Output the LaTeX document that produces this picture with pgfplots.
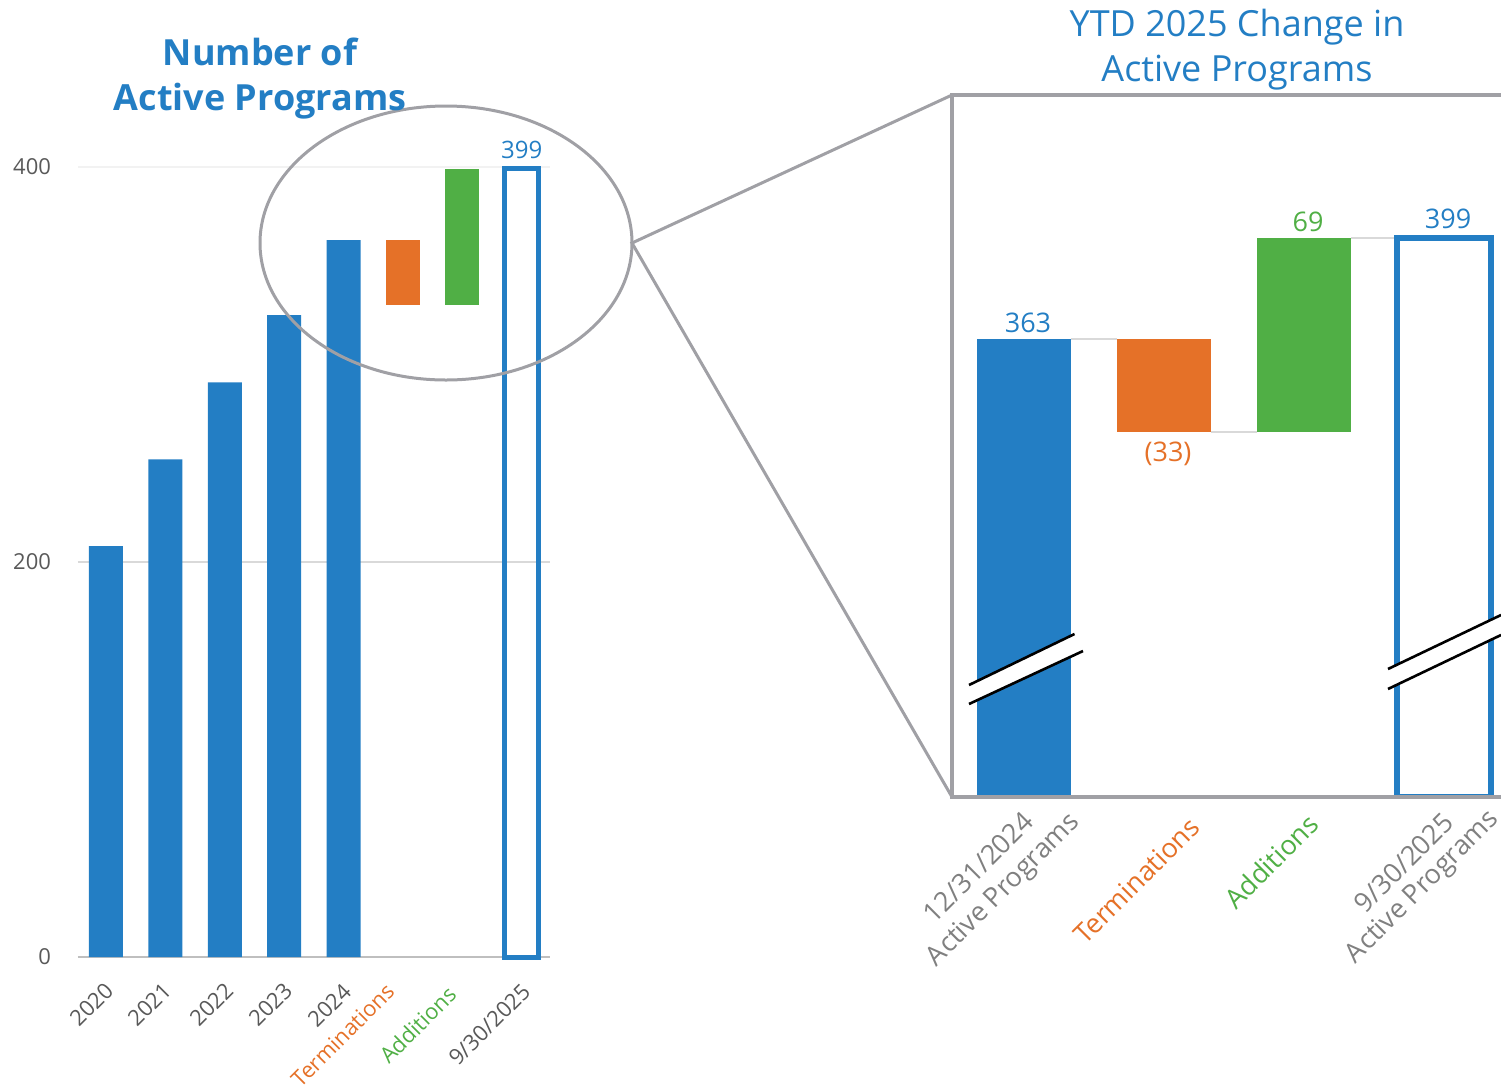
\documentclass[border=0pt]{standalone}
\usepackage{fontspec}
\setmainfont{Open Sans}
\usepackage{pgfplots}
\pgfplotsset{compat=1.18}
\definecolor{cblue}{HTML}{237EC4}
\definecolor{corange}{HTML}{E57128}
\definecolor{cgreen}{HTML}{50AF45}
\definecolor{cdark}{HTML}{595959}
\definecolor{clab}{HTML}{808080}
\definecolor{cframe}{HTML}{A0A0A5}
\definecolor{cgrid}{HTML}{D9D9D9}
\definecolor{cxaxis}{HTML}{BFBFBF}
\begin{document}
\begin{tikzpicture}
\useasboundingbox (0,0) rectangle (750.5pt,-544.5pt);

% ---------- left chart ----------
\begin{axis}[
  at={(39pt,-478.5pt)}, anchor=south west, scale only axis,
  width=236pt, height=395pt,
  xmin=-0.471, xmax=7.475, ymin=0, ymax=400, clip=false,
  axis x line*=bottom, axis y line*=left,
  x axis line style={color=cxaxis, line width=1pt, -},
  y axis line style={draw=none},
  major tick length=0pt,
  ytick={0,200}, extra y ticks={400},
  ymajorgrids, grid style={color=cgrid, line width=0.8pt},
  extra y tick style={grid style={color=cgrid!35, line width=0.8pt}},
  /pgf/number format/assume math mode=true,
  yticklabel style={font=\fontsize{11}{13}\selectfont, text=cdark, xshift=-10pt},
  xtick=\empty,
]
\addplot[ybar, bar width=17pt, bar shift=0pt, fill=cblue, draw=none]
  coordinates {(0,208) (1,252) (2,291) (3,325) (4,363)};
\addplot[ybar, bar width=17pt, bar shift=0pt, draw=cblue, line width=2.5pt, fill=none]
  coordinates {(7,399)};
\node[text=cblue, font=\fontsize{12}{14}\selectfont, anchor=south, inner sep=2pt] at (axis cs:7,402) {399};
\end{axis}

\begin{axis}[
  at={(39pt,-478.5pt)}, anchor=south west, scale only axis,
  width=236pt, height=395pt,
  xmin=-0.471, xmax=7.475, ymin=0, ymax=400, clip=false,
  hide axis, ybar stacked, bar width=17pt,
]
\addplot[fill=none, draw=none] coordinates {(5,330) (6,330)};
\addplot[fill=corange, draw=none] coordinates {(5,33) (6,0)};
\addplot[fill=cgreen, draw=none] coordinates {(5,0) (6,69)};
\end{axis}

% ---------- right chart ----------
\begin{axis}[
  at={(476pt,-398.5pt)}, anchor=south west, scale only axis,
  width=274.5pt, height=351pt,
  xmin=-0.514, xmax=3.407, ymin=200, ymax=450,
  axis line style={draw=none},
  major tick length=0pt,
  ytick=\empty, xtick=\empty,
]
\addplot[cgrid, line width=1pt] coordinates {(0.336,363) (0.664,363)};
\addplot[cgrid, line width=1pt] coordinates {(1.336,330) (1.664,330)};
\addplot[cgrid, line width=1pt] coordinates {(2.336,399) (2.664,399)};
\addplot[ybar, bar width=47pt, bar shift=0pt, fill=cblue, draw=none]
  coordinates {(0,363)};
\addplot[ybar, bar width=47pt, bar shift=0pt, draw=cblue, line width=3pt, fill=none]
  coordinates {(3,399)};
\end{axis}

\begin{axis}[
  at={(476pt,-398.5pt)}, anchor=south west, scale only axis,
  width=274.5pt, height=351pt,
  xmin=-0.514, xmax=3.407, ymin=200, ymax=450,
  hide axis, ybar stacked, bar width=47pt,
]
\addplot[fill=none, draw=none] coordinates {(1,330) (2,330)};
\addplot[fill=corange, draw=none] coordinates {(1,33) (2,0)};
\addplot[fill=cgreen, draw=none] coordinates {(1,0) (2,69)};
\node[text=cblue, font=\fontsize{13.5}{16}\selectfont, anchor=south, inner sep=3pt, xshift=2pt] at (axis cs:0,363) {363};
\node[text=corange, font=\fontsize{13.5}{16}\selectfont, anchor=north, inner sep=3pt, xshift=2pt, yshift=-2pt] at (axis cs:1,330) {(33)};
\node[text=cgreen, font=\fontsize{13.5}{16}\selectfont, anchor=south, inner sep=3pt, xshift=2pt] at (axis cs:2,399) {69};
\node[text=cblue, font=\fontsize{13.5}{16}\selectfont, anchor=south, inner sep=3pt, xshift=2pt] at (axis cs:3,400) {399};
\end{axis}

\begin{scope}[x=0.5pt,y=-0.5pt]
% ---------- category labels, left ----------
\begin{scope}[every node/.style={rotate=45, anchor=base east, inner sep=0pt, font=\fontsize{11}{13}\selectfont, text=cdark}]
\node at (115,992) {2020};
\node at (173,992) {2021};
\node at (235,992) {2022};
\node at (294,992) {2023};
\node at (353,993) {2024};
\node[text=corange] at (396,993) {Terminations};
\node[text=cgreen] at (458,996) {Additions};
\node at (532,993) {9/30/2025};
\end{scope}
% ---------- category labels, right ----------
\begin{scope}[every node/.style={rotate=45, anchor=base east, inner sep=0pt, font=\fontsize{13.5}{16}\selectfont, text=clab}]
\node at (1036,823) {12/31/2024};
\node at (1081,823) {Active Programs};
\node[text=corange] at (1202,829) {Terminations};
\node[text=cgreen] at (1321,826) {Additions};
\node at (1456,824) {9/30/2025};
\node at (1500,820) {Active Programs};
\end{scope}

% ---------- break marks ----------
\fill[white] (969,685) -- (1074.5,634) -- (1083,651) -- (969,704) -- cycle;
\draw[black, line width=1.3pt] (969,685) -- (1074.5,634);
\draw[black, line width=1.3pt] (969,704) -- (1083,651);
\fill[white] (1388,669) -- (1501,615) -- (1501,635) -- (1388,689) -- cycle;
\draw[black, line width=1.3pt] (1388,669) -- (1501,615);
\draw[black, line width=1.3pt] (1388,689) -- (1501,635);

% ---------- zoom frame ----------
\draw[cframe, line width=2pt] (1501,95) -- (952,95) -- (952,797) -- (1501,797);
\draw[cframe, line width=1.5pt] (952,95) -- (632,243) -- (952,797);
\draw[cframe, line width=1.5pt] (446,243) ellipse [x radius=186, y radius=137];

% ---------- titles ----------
\node[align=center, text=cblue, font=\bfseries\fontsize{18}{22.5}\selectfont] at (260,79) {Number of\\Active Programs};
\node[align=center, text=cblue, font=\fontsize{18}{22.5}\selectfont] at (1237,50) {YTD 2025 Change in\\Active Programs};
\end{scope}
\end{tikzpicture}
\end{document}
